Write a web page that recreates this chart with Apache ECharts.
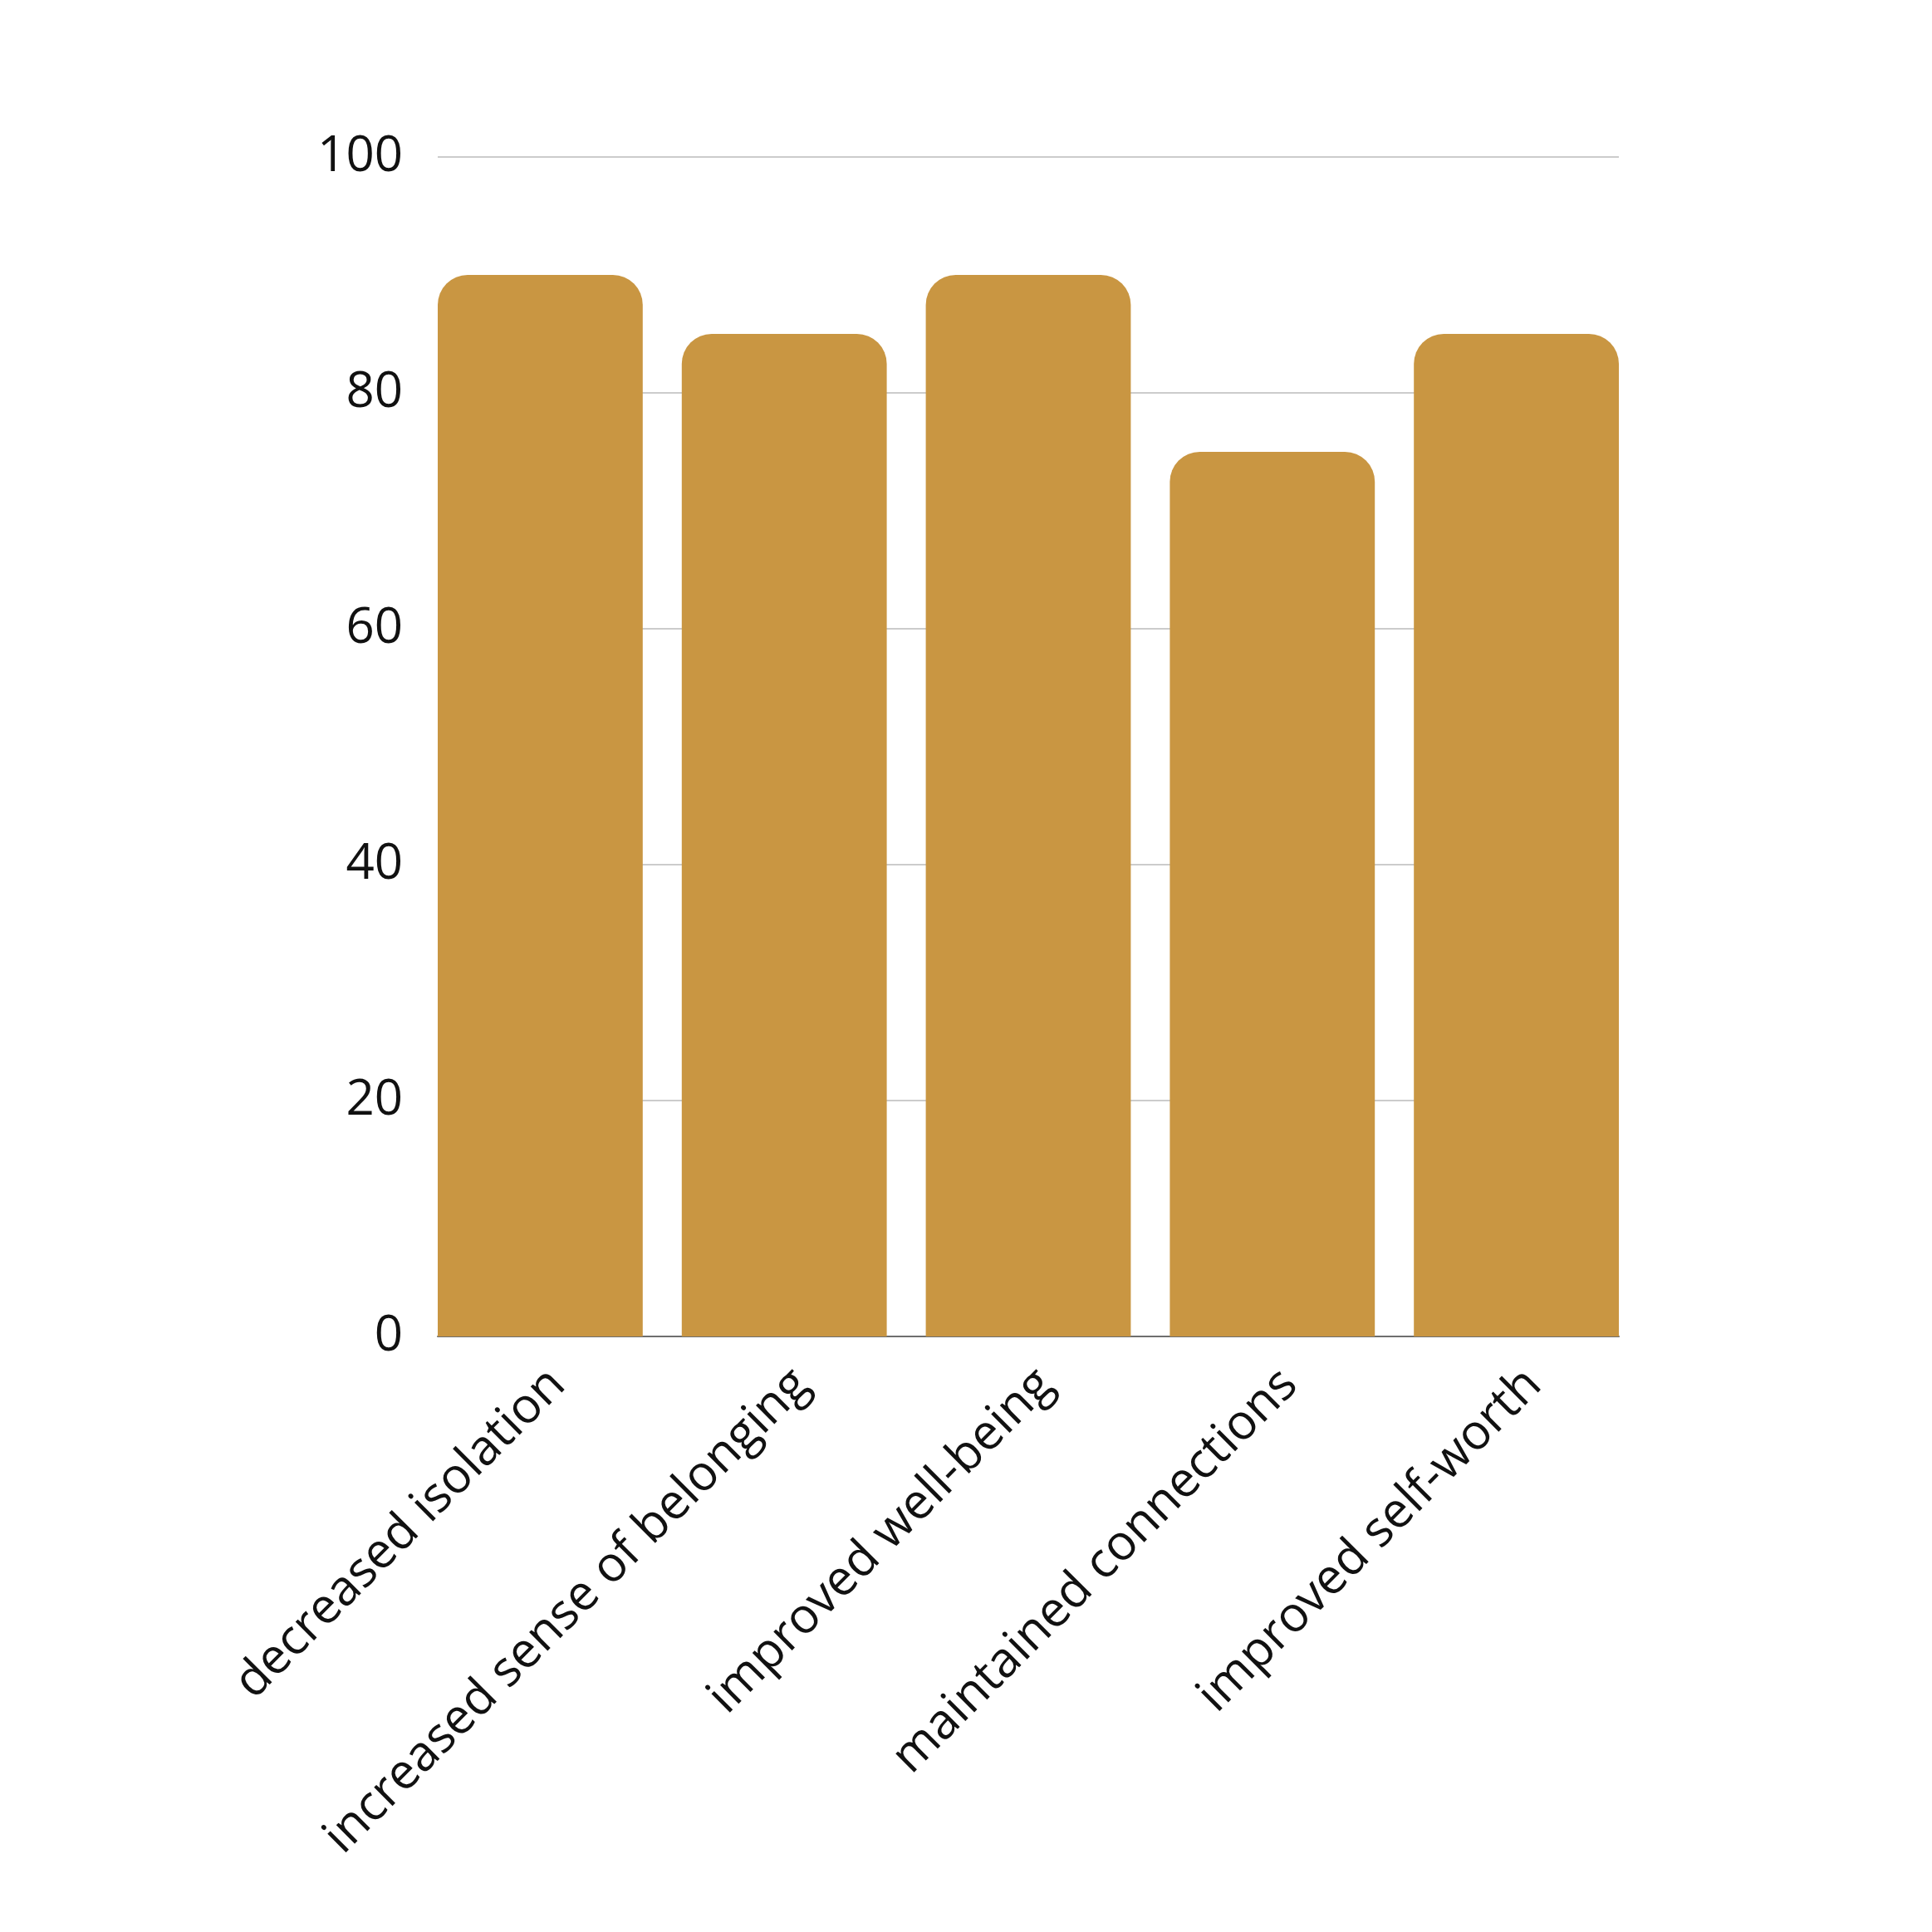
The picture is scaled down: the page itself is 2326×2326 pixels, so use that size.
<!DOCTYPE html>
<html>
<head>
<meta charset="utf-8">
<script src="https://cdn.jsdelivr.net/npm/echarts@6/dist/echarts.min.js"></script>
<style>
html,body{margin:0;padding:0;background:#fff;}
#chart{width:2326px;height:2326px;}
</style>
</head>
<body>
<div id="chart"></div>
<script>
const categories = ["decreased isolation", "increased sense of belonging", "improved well-being", "maintained connections", "improved self-worth"];
const values = [90, 85, 90, 75, 85];
const yMin = 0, yMax = 100, yInterval = 20;

const chart = echarts.init(document.getElementById('chart'), null, {renderer: 'canvas'});
const FONT = '"Open Sans", sans-serif';
const plotLeft = 527, plotWidth = 1422, plotTop = 189, plotHeight = 1420;
const gap = 47;

chart.setOption({
  backgroundColor: '#ffffff',
  animation: false,
  grid: [
    {left: plotLeft, top: plotTop, width: plotWidth, height: plotHeight, containLabel: false},
    {left: plotLeft - gap / 2, top: plotTop, width: plotWidth + gap, height: plotHeight, containLabel: false}
  ],
  xAxis: [
    {
      type: 'category', gridIndex: 0, data: categories,
      axisTick: {show: false}, axisLabel: {show: false},
      axisLine: {show: true, lineStyle: {color: '#6e6e6e', width: 2}}
    },
    {
      type: 'category', gridIndex: 1, data: categories,
      axisTick: {show: false},
      axisLine: {show: false},
      axisLabel: {rotate: 45, fontSize: 59, color: '#111111', fontFamily: FONT, margin: 28, interval: 0, verticalAlign: 'top'}
    }
  ],
  yAxis: [
    {
      type: 'value', gridIndex: 0, min: yMin, max: yMax, interval: yInterval,
      axisLine: {show: false}, axisTick: {show: false},
      axisLabel: {fontSize: 60, color: '#111111', fontFamily: FONT, margin: 42},
      splitLine: {show: true, lineStyle: {color: '#cccccc', width: 2}}
    },
    {
      type: 'value', gridIndex: 1, min: yMin, max: yMax, interval: yInterval, show: false,
      splitLine: {show: false}
    }
  ],
  series: [{
    type: 'bar',
    xAxisIndex: 1, yAxisIndex: 1,
    data: values,
    barCategoryGap: (gap / ((plotWidth + gap) / categories.length) * 100) + '%',
    itemStyle: {color: '#C99642', borderRadius: [36, 36, 0, 0]}
  }]
});
</script>
</body>
</html>
